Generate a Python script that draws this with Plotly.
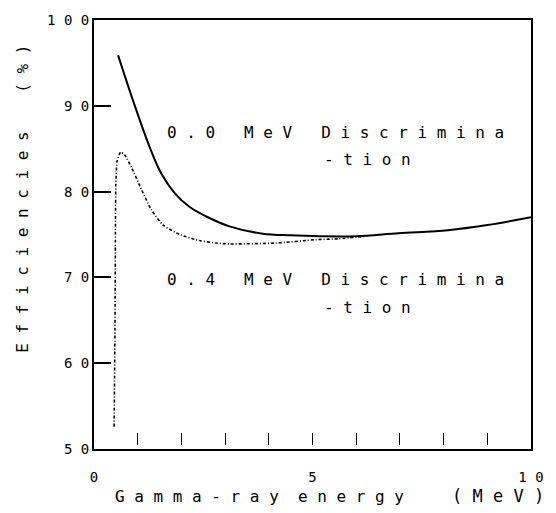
import plotly.graph_objects as go

# 0.0 MeV discrimination (solid)
energy_00 = [0.55, 0.9, 1.28, 1.54, 1.85, 2.19, 2.57, 3.1, 3.86, 4.5, 5.15, 6.0, 6.97, 8.1, 9.0, 10.0]
eff_00 = [95.9, 90.5, 85.1, 82.1, 79.8, 78.2, 77.1, 75.95, 75.1, 74.9, 74.8, 74.8, 75.15, 75.5, 76.1, 77.0]

# 0.4 MeV discrimination (dash-dot)
energy_04 = [0.46, 0.48, 0.49, 0.50, 0.53, 0.61, 0.7, 0.86, 1.09, 1.31, 1.58, 1.96, 2.41, 2.79, 3.1, 4.16, 5.07, 5.6, 6.2]
eff_04 = [52.6, 64.0, 75.2, 80.9, 83.6, 84.6, 84.3, 82.8, 80.2, 77.9, 76.1, 75.0, 74.3, 74.0, 73.9, 74.0, 74.4, 74.5, 74.8]

y_ticks = [50, 60, 70, 80, 90, 100]
y_ticklabels = ["5 0", "6 0", "7 0", "8 0", "9 0", "1 0 0"]
x_ticks = [0, 5, 10]
x_ticklabels = ["0", "5", "1 0"]
x_minor = [1, 2, 3, 4, 5, 6, 7, 8, 9]

label_00 = "0.0 MeV Discrimina"
label_04 = "0.4 MeV Discrimina"
label_tion = "-tion"
x_title = "Gamma-ray energy"
x_unit = "(MeV)"
y_title = "Efficiencies (%)"

NB = "\u00a0"


def spaced(s, word_gap=3, sep=1):
    words = s.split(" ")
    return (NB * word_gap).join((NB * sep).join(list(w)) for w in words)


FONT = "DejaVu Sans Mono"

fig = go.Figure()
fig.add_trace(go.Scatter(x=energy_00, y=eff_00, mode="lines",
                         line=dict(color="black", width=2, shape="spline", smoothing=1.0),
                         showlegend=False, hoverinfo="skip"))
fig.add_trace(go.Scatter(x=energy_04, y=eff_04, mode="lines", xaxis="x2",
                         line=dict(color="black", width=1.6, dash="3px,2px,1px,2px",
                                   shape="spline", smoothing=0.5),
                         showlegend=False, hoverinfo="skip"))

ann_font = dict(family=FONT, size=16, color="black")
fig.add_annotation(x=1.62, y=86.9, xref="x", yref="y", xanchor="left", yanchor="middle",
                   text=spaced(label_00), showarrow=False, font=ann_font)
fig.add_annotation(x=5.22, y=83.8, xref="x", yref="y", xanchor="left", yanchor="middle",
                   text=spaced(label_tion), showarrow=False, font=ann_font)
fig.add_annotation(x=1.62, y=69.8, xref="x", yref="y", xanchor="left", yanchor="middle",
                   text=spaced(label_04), showarrow=False, font=ann_font)
fig.add_annotation(x=5.22, y=66.55, xref="x", yref="y", xanchor="left", yanchor="middle",
                   text=spaced(label_tion), showarrow=False, font=ann_font)

# axis titles as annotations (offset like the original)
fig.add_annotation(x=(113 - 94) / 439, y=1 - (497 - 14) / 435, xref="paper", yref="paper",
                   xanchor="left", yanchor="middle", text=spaced(x_title, 2),
                   showarrow=False, font=ann_font)
fig.add_annotation(x=(548 - 94) / 439, y=1 - (497 - 14) / 435, xref="paper", yref="paper",
                   xanchor="right", yanchor="middle", text=spaced(x_unit),
                   showarrow=False, font=dict(family=FONT, size=17, color="black"))
fig.add_annotation(x=-(94 - 22) / 439, y=1 - (195 - 14) / 435, xref="paper", yref="paper",
                   xanchor="center", yanchor="middle", textangle=-90, text=spaced(y_title, 4),
                   showarrow=False, font=ann_font)

fig.update_layout(
    width=556, height=513,
    margin=dict(l=94, r=23, t=14, b=64),
    paper_bgcolor="white", plot_bgcolor="white",
    font=dict(family=FONT, size=14, color="black"),
    xaxis=dict(range=[0, 10], tickvals=x_ticks, ticktext=x_ticklabels, ticks="",
               showgrid=False, zeroline=False, showline=True, linecolor="black", linewidth=2,
               mirror=True, ticklabelstandoff=14, tickfont=dict(family=FONT, size=14)),
    xaxis2=dict(range=[0, 10], overlaying="x", anchor="free", position=0.01, side="bottom",
                tickvals=x_minor, showticklabels=False, ticks="inside", ticklen=12, tickwidth=1.3,
                tickcolor="black", showline=False, showgrid=False, zeroline=False),
    yaxis=dict(range=[50, 100], tickvals=y_ticks, ticktext=y_ticklabels, ticks="inside",
               ticklen=17, tickwidth=1.6, tickcolor="black",
               showgrid=False, zeroline=False, showline=True, linecolor="black", linewidth=2,
               mirror=True, ticklabelstandoff=0, tickfont=dict(family=FONT, size=14)),
)

fig.write_html("out.html")
